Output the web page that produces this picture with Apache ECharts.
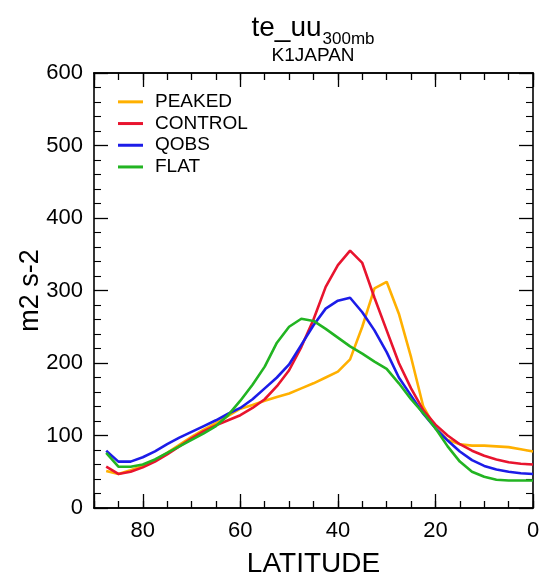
<!DOCTYPE html>
<html>
<head>
<meta charset="utf-8">
<script src="https://cdn.jsdelivr.net/npm/echarts@6/dist/echarts.min.js"></script>
<style>
html,body{margin:0;padding:0;background:#fff;}
#chart{width:548px;height:584px;}
</style>
</head>
<body>
<div id="chart"></div>
<script>
var latitudes = [87.5, 85, 82.5, 80, 77.5, 75, 72.5, 70, 67.5, 65, 62.5, 60, 57.5, 55, 52.5, 50, 47.5, 45, 42.5, 40, 37.5, 35, 32.5, 30, 27.5, 25, 22.5, 20, 17.5, 15, 12.5, 10, 7.5, 5, 2.5, 0];
var peaked  = [51, 47, 52, 58, 66, 76, 87, 98, 108, 117, 127, 137, 142, 148, 153, 158, 165, 172, 180, 188, 205, 250, 303, 312, 268, 208, 140, 110, 94, 88, 86, 86, 85, 84, 81, 78];
var control = [57, 47, 50, 56, 64, 74, 85, 96, 106, 114, 121, 128, 138, 150, 168, 190, 222, 260, 305, 335, 355, 338, 290, 245, 200, 165, 135, 115, 100, 88, 79, 72, 67, 63, 61, 60];
var qobs    = [79, 64, 64, 70, 78, 88, 97, 105, 113, 121, 130, 138, 150, 165, 180, 198, 225, 252, 275, 286, 290, 270, 245, 215, 180, 155, 130, 110, 93, 78, 66, 58, 53, 50, 48, 47];
var flat    = [76, 57, 57, 60, 67, 76, 85, 94, 103, 113, 128, 148, 170, 195, 228, 250, 261, 258, 247, 235, 223, 213, 202, 192, 172, 150, 131, 110, 85, 64, 50, 43, 39, 38, 38, 38];
var seriesNames = ['PEAKED', 'CONTROL', 'QOBS', 'FLAT'];
var seriesColors = ['#FFB000', '#E8142E', '#1C1CE8', '#22B422'];
var seriesValues = [peaked, control, qobs, flat];
var xTickLabels = [0, 20, 40, 60, 80];
var yTickLabels = [0, 100, 200, 300, 400, 500, 600];

var FONT = 'Liberation Sans, Arial, Helvetica, sans-serif';
var chart = echarts.init(document.getElementById('chart'), null, {renderer: 'canvas'});

function pairs(vals) {
  return latitudes.map(function (lat, i) { return [lat, vals[i]]; });
}

function xAx(pos, interval, len, labels) {
  return {
    type: 'value', position: pos, min: 0, max: 90, interval: interval, inverse: true,
    axisLine: {show: true, onZero: false, lineStyle: {color: '#000', width: 1.6}},
    axisTick: {show: true, inside: true, length: len, lineStyle: {color: '#000', width: 1.3}},
    axisLabel: labels ? {
      show: true, margin: 12, color: '#000', fontSize: 22, fontFamily: FONT,
      formatter: function (v) { return xTickLabels.indexOf(v) >= 0 ? String(v) : ''; }
    } : {show: false},
    splitLine: {show: false},
    name: labels ? 'LATITUDE' : '',
    nameLocation: 'middle', nameGap: 42, nameMoveOverlap: false,
    nameTextStyle: {color: '#000', fontSize: 28, fontFamily: FONT}
  };
}
function yAx(pos, labels) {
  return {
    type: 'value', position: pos, min: 0, max: 600, interval: 100,
    axisLine: {show: true, onZero: false, lineStyle: {color: '#000', width: 1.6}},
    axisTick: {show: true, inside: true, length: 14, lineStyle: {color: '#000', width: 1.3}},
    minorTick: {show: true, splitNumber: 5, length: 7, lineStyle: {color: '#000', width: 1.1}},
    axisLabel: labels ? {
      show: true, margin: 11, color: '#000', fontSize: 22, fontFamily: FONT,
      formatter: function (v) { return yTickLabels.indexOf(v) >= 0 ? String(v) : ''; }
    } : {show: false},
    splitLine: {show: false}, minorSplitLine: {show: false},
    name: labels ? 'm2 s-2' : '',
    nameLocation: 'middle', nameRotate: 90, nameGap: 50, nameMoveOverlap: false,
    nameTextStyle: {color: '#000', fontSize: 27, fontFamily: FONT}
  };
}

var option = {
  animation: false,
  backgroundColor: '#fff',
  grid: {left: 94, right: 15, top: 73, bottom: 76, containLabel: false, outerBoundsMode: 'none'},
  xAxis: [
    xAx('bottom', 20, 14, true),
    xAx('bottom', 5, 7, false),
    xAx('top', 20, 14, false),
    xAx('top', 5, 7, false)
  ],
  yAxis: [yAx('left', true), yAx('right', false)],
  legend: {
    orient: 'vertical', left: 118, top: 91, padding: 0,
    icon: 'rect', itemWidth: 25, itemHeight: 3, itemGap: 0,
    data: seriesNames,
    textStyle: {color: '#000', fontSize: 19, fontFamily: FONT, lineHeight: 21.7, padding: [0, 0, 0, 7]}
  },
  graphic: [
    {type: 'text', x: 313, y: 14, style: {
      text: '{a|te_uu}{b|300mb}', textAlign: 'center', textVerticalAlign: 'top',
      rich: {
        a: {fontSize: 28, fontFamily: FONT, fill: '#000', verticalAlign: 'bottom'},
        b: {fontSize: 17, fontFamily: FONT, fill: '#000', verticalAlign: 'bottom', padding: [0, 0, -6, 1]}
      }
    }},
    {type: 'text', x: 313, y: 46, style: {
      text: 'K1JAPAN', textAlign: 'center', textVerticalAlign: 'top',
      fontSize: 19, fontFamily: FONT, fill: '#000'
    }}
  ],
  series: seriesNames.map(function (n, i) {
    return {
      name: n, type: 'line', xAxisIndex: 0, yAxisIndex: 0,
      data: pairs(seriesValues[i]), showSymbol: false, symbol: 'none',
      lineStyle: {color: seriesColors[i], width: 2.6}, itemStyle: {color: seriesColors[i]},
      z: 2 + i
    };
  })
};
chart.setOption(option);
</script>
</body>
</html>
